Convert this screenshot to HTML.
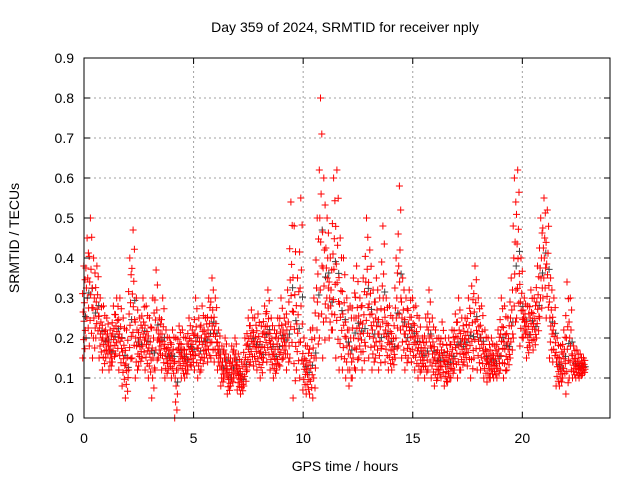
<!DOCTYPE html>
<html><head><meta charset="utf-8"><style>
body{margin:0;background:#fff;}
svg{display:block;font-family:"Liberation Sans",sans-serif;}
</style></head><body>
<svg id="chart" width="640" height="480" viewBox="0 0 640 480">
<rect x="0" y="0" width="640" height="480" fill="#fff"/>
<text x="345" y="32" font-size="14" text-anchor="middle">Day 359 of 2024, SRMTID for receiver nply</text>
<text x="345" y="471" font-size="14" text-anchor="middle">GPS time / hours</text>
<text x="19" y="238" font-size="14" text-anchor="middle" transform="rotate(-90 19 238)">SRMTID / TECUs</text>
<g id="grid"></g>
<g id="marks"></g>
<g id="axes"></g>
</svg>
<script>
const xTicks=[0,5,10,15,20];
const yTicks=[0,0.1,0.2,0.3,0.4,0.5,0.6,0.7,0.8,0.9];
const yTickLabels=["0","0.1","0.2","0.3","0.4","0.5","0.6","0.7","0.8","0.9"];
const timeStep=0.15;
const hiVals=[.38,.45,.5,.4,.38,.3,.28,.25,.22,.28,.3,.3,.25,.22,.4,.47,.3,.25,.3,.28,.25,.3,.37,.25,.3,.22,.2,.22,.2,.23,.22,.2,.25,.22,.3,.25,.28,.25,.3,.35,.3,.22,.18,.2,.15,.18,.2,.16,.14,.2,.25,.27,.25,.26,.23,.28,.32,.25,.22,.25,.3,.25,.32,.54,.48,.35,.55,.2,.18,.22,.3,.5,.8,.6,.5,.4,.6,.62,.45,.4,.3,.28,.35,.38,.3,.35,.5,.42,.32,.35,.3,.48,.3,.28,.25,.4,.58,.35,.3,.32,.3,.28,.25,.2,.25,.32,.25,.22,.2,.24,.2,.2,.22,.26,.3,.25,.25,.3,.33,.38,.3,.28,.22,.2,.2,.18,.22,.3,.28,.25,.35,.6,.62,.4,.3,.28,.32,.3,.38,.5,.55,.52,.35,.3,.2,.18,.22,.34,.3,.18,.17,.16,.15];
const loVals=[.15,.2,.18,.15,.2,.15,.12,.15,.12,.14,.16,.12,.08,.05,.12,.15,.1,.13,.15,.12,.1,.05,.12,.15,.12,.1,.12,.1,0,.12,.1,.1,.12,.13,.12,.1,.12,.15,.14,.15,.14,.12,.08,.1,.06,.08,.1,.07,.06,.08,.12,.14,.13,.12,.1,.15,.14,.12,.1,.12,.13,.15,.12,.15,.05,.12,.1,.07,.06,.06,.05,.15,.2,.15,.25,.2,.22,.15,.12,.12,.1,.08,.1,.12,.15,.12,.18,.15,.12,.15,.12,.18,.14,.12,.12,.15,.18,.15,.12,.15,.14,.12,.1,.12,.1,.12,.1,.08,.1,.1,.08,.09,.1,.12,.1,.12,.14,.13,.1,.15,.12,.12,.1,.09,.1,.1,.1,.12,.1,.12,.15,.2,.25,.18,.2,.15,.18,.17,.2,.25,.3,.25,.15,.14,.08,.08,.1,.06,.1,.1,.1,.1,.11];
const X0=84,X1=610,Y0=418,Y1=58;
const xS=v=>X0+v/24*(X1-X0);
const yS=v=>Y0-v/0.9*(Y0-Y1);
const NS="http://www.w3.org/2000/svg";
function mk(tag,attrs,parent){const e=document.createElementNS(NS,tag);for(const k in attrs)e.setAttribute(k,attrs[k]);parent.appendChild(e);return e;}
const grid=document.getElementById('grid'),axes=document.getElementById('axes'),marks=document.getElementById('marks');
yTicks.forEach((v,i)=>{const y=yS(v);
 if(i>0&&i<yTicks.length-1){const g=mk('line',{x1:X0,x2:X1,y1:y,y2:y,stroke:'#a0a0a0','stroke-dasharray':'2,3','stroke-width':1},grid);
 
 }
 mk('line',{x1:X0,x2:X0+6,y1:y,y2:y,stroke:'#000'},axes);
 mk('line',{x1:X1,x2:X1-6,y1:y,y2:y,stroke:'#000'},axes);
 const t=mk('text',{x:X0-10,y:y+5,'font-size':14,'text-anchor':'end'},axes);t.textContent=yTickLabels[i];
 
 
});
xTicks.forEach(v=>{const x=xS(v);
 if(v>0){const g=mk('line',{x1:x,x2:x,y1:Y0,y2:Y1,stroke:'#a0a0a0','stroke-dasharray':'2,3','stroke-width':1},grid);
 
 }
 mk('line',{x1:x,x2:x,y1:Y0,y2:Y0-6,stroke:'#000'},axes);
 mk('line',{x1:x,x2:x,y1:Y1,y2:Y1+6,stroke:'#000'},axes);
 const t=mk('text',{x:x,y:Y0+25,'font-size':14,'text-anchor':'middle'},axes);t.textContent=String(v);
 
 
});
const fr=mk('rect',{x:X0,y:Y1,width:X1-X0,height:Y0-Y1,fill:'none',stroke:'#000','stroke-width':1},axes);


let d='',dg='';
const fracs=[0,0.1,0.2,0.3,0.4,0.5,0.6,0.7,0.85,1];
const offs=[-0.06,0.04,-0.02,0.06,0,-0.04,0.02,-0.065,0.05,-0.01];
hiVals.forEach((hi,i)=>{const lo=loVals[i];
 fracs.forEach((f,j)=>{const t=i*timeStep+offs[j];const x=xS(t),y=yS(lo+(hi-lo)*f);
  d+=`M${(x-3.5).toFixed(1)} ${y.toFixed(1)}h7M${x.toFixed(1)} ${(y-3.5).toFixed(1)}v7`;});
 const xg=xS(i*timeStep+0.07),yg=yS(lo+(hi-lo)*0.45);
 dg+=`M${(xg-3.5).toFixed(1)} ${yg.toFixed(1)}h7M${xg.toFixed(1)} ${(yg-3.5).toFixed(1)}v7`;
});
const pg=mk('path',{d:dg,stroke:'#404040','stroke-width':1,fill:'none'},marks);


const p=mk('path',{d:d,stroke:'#ff0000','stroke-width':1,fill:'none'},marks);


</script>
</body></html>
